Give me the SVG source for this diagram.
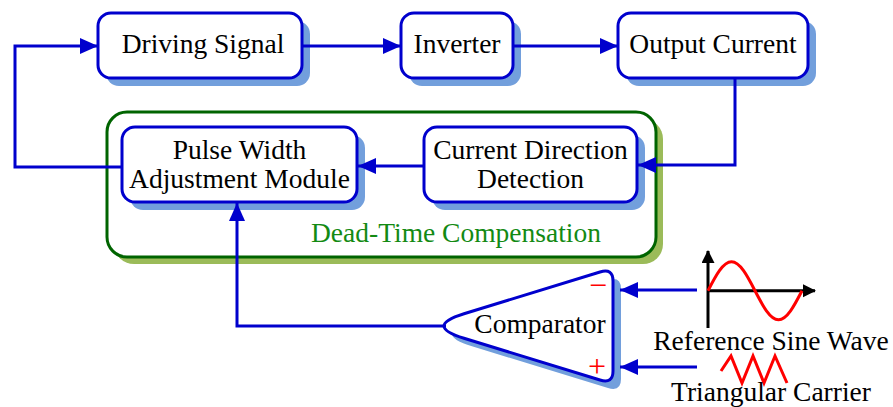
<svg xmlns="http://www.w3.org/2000/svg" width="893" height="407" viewBox="0 0 893 407">
<defs>
<style>
.box{fill:#fff;stroke:#0000cd;stroke-width:3}
.sh{fill:#729fdc}
.t{font-family:'Liberation Serif','Times New Roman',serif;font-size:27.5px;fill:#000;text-anchor:middle}
.g{fill:#138a13}
.r{fill:#ff0000;font-size:32px}
.c{fill:none;stroke:#0000cd;stroke-width:3}
.ax{fill:none;stroke:#000;stroke-width:3}
</style>
<marker id="ah" markerUnits="userSpaceOnUse" markerWidth="19" markerHeight="17" refX="18" refY="8" orient="auto">
<path d="M0,0 L18,8 L0,16 z" fill="#0000cd"/>
</marker>
<marker id="bh" markerUnits="userSpaceOnUse" markerWidth="14" markerHeight="14" refX="12" refY="6.5" orient="auto">
<path d="M0,0 L13,6.5 L0,13 z" fill="#000"/>
</marker>
</defs>
<g id="dead-time-compensation">
<rect x="114" y="119" width="549" height="145" rx="20" fill="#9bbb59"/>
<rect x="107" y="112" width="549" height="145" rx="20" fill="#fff" stroke="#006400" stroke-width="3"/>
<text class="t g" x="456" y="242">Dead-Time Compensation</text>
</g>
<g id="driving-signal">
<rect class="sh" x="106" y="21" width="204" height="65" rx="13"/>
<rect class="box" x="98" y="13" width="204" height="65" rx="13"/>
<text class="t" x="203" y="53">Driving Signal</text>
</g>
<g id="inverter">
<rect class="sh" x="409" y="21" width="112" height="65" rx="13"/>
<rect class="box" x="401" y="13" width="112" height="65" rx="13"/>
<text class="t" x="457" y="53">Inverter</text>
</g>
<g id="output-current">
<rect class="sh" x="626" y="21" width="190" height="65" rx="13"/>
<rect class="box" x="618" y="13" width="190" height="65" rx="13"/>
<text class="t" x="713" y="53">Output Current</text>
</g>
<g id="pulse-width">
<rect class="sh" x="130" y="135" width="235" height="75" rx="13"/>
<rect class="box" x="122" y="127" width="235" height="75" rx="13"/>
<text class="t" x="239.5" y="159">Pulse Width</text>
<text class="t" x="239.5" y="188">Adjustment Module</text>
</g>
<g id="current-direction">
<rect class="sh" x="432" y="135" width="213" height="75" rx="13"/>
<rect class="box" x="424" y="127" width="213" height="75" rx="13"/>
<text class="t" x="530.5" y="159">Current Direction</text>
<text class="t" x="530.5" y="188">Detection</text>
</g>
<g id="comparator">
<path class="sh" transform="translate(8,8)" d="M464,313.7 L600,272 Q613,268 613,281 L613,371 Q613,384 600,380 L464,338.3 Q424,326 464,313.7 z"/>
<path class="box" d="M464,313.7 L600,272 Q613,268 613,281 L613,371 Q613,384 600,380 L464,338.3 Q424,326 464,313.7 z"/>
<text class="t" x="540" y="333">Comparator</text>
<text class="t r" x="598" y="296">−</text>
<text class="t r" x="597" y="377">+</text>
</g>
<g id="reference-sine-wave">
<line class="ax" x1="708" y1="328" x2="708" y2="251" marker-end="url(#bh)"/>
<line class="ax" x1="708" y1="290.7" x2="815" y2="290.7" marker-end="url(#bh)"/>
<path d="M708,290.7 C715.67,275.83 723,261.7 731.5,261.7 C740,261.7 747.33,275.83 755,290.7 C762.67,305.57 770,319.7 778.5,319.7 C787,319.7 794.33,305.57 802,290.7" fill="none" stroke="#ff0000" stroke-width="3"/>
<text class="t" x="771" y="350">Reference Sine Wave</text>
</g>
<g id="triangular-carrier">
<polyline points="721,371 731,356 742,383 753,356 764,383 775,356 787,383" fill="none" stroke="#ff0000" stroke-width="3" stroke-linejoin="miter"/>
<text class="t" x="771" y="401">Triangular Carrier</text>
</g>
<g id="connectors">
<polyline class="c" points="122,167 15,167 15,46 98,46" marker-end="url(#ah)"/>
<line class="c" x1="302" y1="46" x2="401" y2="46" marker-end="url(#ah)"/>
<line class="c" x1="513" y1="46" x2="618" y2="46" marker-end="url(#ah)"/>
<polyline class="c" points="735,78 735,165 638,165" marker-end="url(#ah)"/>
<line class="c" x1="424" y1="166" x2="358" y2="166" marker-end="url(#ah)"/>
<polyline class="c" points="446,326 237,326 237,203" marker-end="url(#ah)"/>
<line class="c" x1="697" y1="290" x2="620" y2="290" marker-end="url(#ah)"/>
<line class="c" x1="697" y1="367" x2="620" y2="367" marker-end="url(#ah)"/>
</g>
</svg>
